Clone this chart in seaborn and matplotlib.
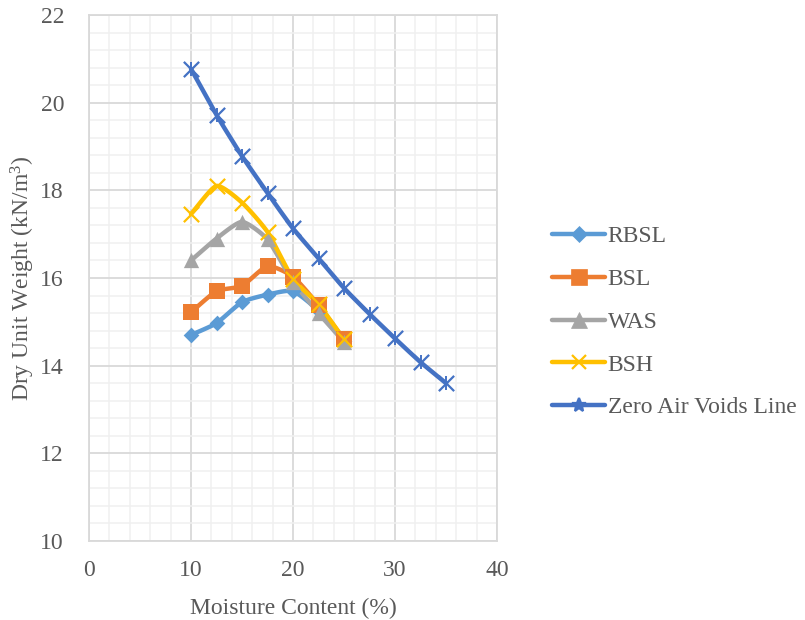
import numpy as np
import pandas as pd
import matplotlib
matplotlib.use("Agg")
import matplotlib.pyplot as plt
from matplotlib.ticker import MultipleLocator
import seaborn as sns

# ---- data ----
moisture = [10, 12.5, 15, 17.5, 20, 22.5, 25]
rbsl = [14.70, 14.97, 15.45, 15.62, 15.70, 15.25, 14.56]
bsl = [15.22, 15.70, 15.82, 16.27, 16.03, 15.38, 14.60]
was_ = [16.40, 16.90, 17.28, 16.88, 15.92, 15.20, 14.54]
bsh = [17.46, 18.10, 17.72, 17.05, 15.98, 15.40, 14.60]
zav_x = [10, 12.5, 15, 17.5, 20, 22.5, 25, 27.5, 30, 32.5, 35]
zav_y = [20.77, 19.72, 18.78, 17.94, 17.13, 16.45, 15.77, 15.18, 14.62, 14.08, 13.60]

series_names = ["RBSL", "BSL", "WAS", "BSH", "Zero Air Voids Line"]
series_x = [moisture, moisture, moisture, moisture, zav_x]
series_y = [rbsl, bsl, was_, bsh, zav_y]
colors = ["#5B9BD5", "#ED7D31", "#A5A5A5", "#FFC000", "#4472C4"]
markers = ["D", "s", "^", "x", "x"]
msizes = [8, 11, 11, 11, 11]


def smooth(x, y, n=20):
    # Catmull-Rom style smoothing for display (like Excel smoothed lines)
    x = np.asarray(x, float); y = np.asarray(y, float)
    px = np.concatenate([[2 * x[0] - x[1]], x, [2 * x[-1] - x[-2]]])
    py = np.concatenate([[2 * y[0] - y[1]], y, [2 * y[-1] - y[-2]]])
    ox, oy = [], []
    for i in range(1, len(px) - 2):
        t = np.linspace(0, 1, n, endpoint=False)
        for arr, out in ((px, ox), (py, oy)):
            p0, p1, p2, p3 = arr[i - 1], arr[i], arr[i + 1], arr[i + 2]
            m1 = (p2 - p0) / 2 * 0.6
            m2 = (p3 - p1) / 2 * 0.6
            h00 = 2 * t**3 - 3 * t**2 + 1
            h10 = t**3 - 2 * t**2 + t
            h01 = -2 * t**3 + 3 * t**2
            h11 = t**3 - t**2
            out.extend(h00 * p1 + h10 * m1 + h01 * p2 + h11 * m2)
    ox.append(x[-1]); oy.append(y[-1])
    return np.array(ox), np.array(oy)


sns.set_theme(style="white")
plt.rcParams["font.family"] = ["Liberation Serif", "DejaVu Serif"]
plt.rcParams["mathtext.fontset"] = "custom"
plt.rcParams["mathtext.rm"] = "Liberation Serif"
plt.rcParams["mathtext.it"] = "Liberation Serif:italic"
txt = "#595959"
fs = 17

fig = plt.figure(figsize=(8.05, 6.2), dpi=100)
ax = fig.add_axes([89 / 805, 1 - 541 / 620, (497 - 89) / 805, (541 - 15) / 620])

handles = []
for name, xs, ys, c, m, ms in zip(series_names, series_x, series_y, colors, markers, msizes):
    sx, sy = smooth(xs, ys)
    sns.lineplot(x=sx, y=sy, sort=False, color=c, linewidth=3.2, ax=ax, zorder=3, legend=False)
    if m == "x":
        sns.scatterplot(x=xs, y=ys, marker="x", s=ms**2, color=c, linewidth=1.6, ax=ax,
                        zorder=4, legend=False)
    else:
        sns.scatterplot(x=xs, y=ys, marker=m, s=ms**2, color=c, edgecolor=c, linewidth=0,
                        ax=ax, zorder=4, legend=False)
    if name == "Zero Air Voids Line":
        sns.scatterplot(x=xs, y=ys, marker="|", s=110, color=c, linewidth=1.4, ax=ax,
                        zorder=4, legend=False)
    h, = plt.plot([], [], color=c, linewidth=3.2, marker=("*" if name == "Zero Air Voids Line" else m),
                  markersize=(ms if m != "x" else 10), markeredgewidth=(1.6 if m == "x" else 0.5),
                  markeredgecolor=c, label=name)
    handles.append(h)

if ax.get_legend() is not None:
    ax.get_legend().remove()

ax.set_xlim(0, 40)
ax.set_ylim(10, 22)
ax.xaxis.set_major_locator(MultipleLocator(10))
ax.xaxis.set_minor_locator(MultipleLocator(2))
ax.yaxis.set_major_locator(MultipleLocator(2))
ax.yaxis.set_minor_locator(MultipleLocator(0.4))
ax.grid(which="major", color="#d9d9d9", linewidth=1.3, zorder=0)
ax.grid(which="minor", color="#f0f0f0", linewidth=1.1, zorder=0)
ax.set_axisbelow(True)
for s in ax.spines.values():
    s.set_visible(True)
    s.set_color("#d9d9d9")
    s.set_linewidth(1.3)
ax.tick_params(which="both", length=0, labelsize=fs, colors=txt)
ax.tick_params(axis="y", pad=18)
ax.tick_params(axis="x", pad=14)
ax.set_xlabel("Moisture Content (%)", fontsize=fs, color=txt, labelpad=12)
ax.set_ylabel("Dry Unit Weight (kN/m$^3$)", fontsize=fs, color=txt)
ax.yaxis.set_label_coords((37 - 89) / 408, (541 - 278) / 526)

leg = fig.legend(handles=handles, loc="center left", bbox_to_anchor=(531 / 805, 1 - 322 / 620),
                 frameon=False, fontsize=fs, labelcolor=txt, handlelength=2.25, handletextpad=0.1,
                 labelspacing=0.9)

fig.savefig("out.png", dpi=100)
